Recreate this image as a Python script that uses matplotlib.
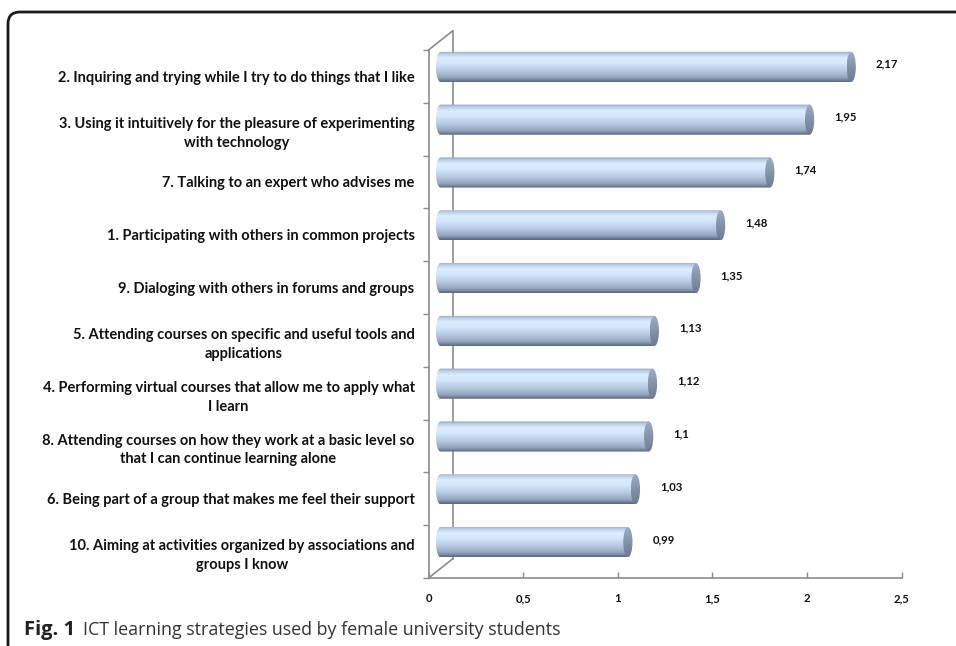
import numpy as np
import matplotlib.pyplot as plt
from matplotlib import transforms
from matplotlib.colors import LinearSegmentedColormap
from matplotlib.patches import Ellipse, FancyBboxPatch, PathPatch
from matplotlib.path import Path

# data, top to bottom as in the chart
labels = [
    '2. Inquiring and trying while I try to do things that I like',
    '3. Using it intuitively for the pleasure of experimenting\nwith technology',
    '7. Talking to an expert who advises me',
    '1. Participating with others in common projects',
    '9. Dialoging with others in forums and groups',
    '5. Attending courses on specific and useful tools and\napplications',
    '4. Performing virtual courses that allow me to apply what\nI learn',
    '8. Attending courses on how they work at a basic level so\nthat I can continue learning alone',
    '6. Being part of a group that makes me feel their support',
    '10. Aiming at activities organized by associations and\ngroups I know',
]
values = [2.17, 1.95, 1.74, 1.48, 1.35, 1.13, 1.12, 1.10, 1.03, 0.99]
value_text = ['2,17', '1,95', '1,74', '1,48', '1,35', '1,13', '1,12', '1,1', '1,03', '0,99']
xticks = [0, 0.5, 1, 1.5, 2, 2.5]
xtick_text = ['0', '0,5', '1', '1,5', '2', '2,5']

W, H, DPI = 956, 646, 100
fig = plt.figure(figsize=(W / DPI, H / DPI), dpi=DPI)
ax = fig.add_axes([428.5 / W, 68 / H, 473.2 / W, 528 / H])

n = len(values)
ypos = np.arange(n)[::-1]
ax.set_xlim(0, 2.5)
ax.set_ylim(-0.5, n - 0.5)

# 3d depth offsets in pixels
dx_wall, dy_wall = 24, 19
off = transforms.offset_copy(ax.transData, fig=fig, x=dx_wall / 2, y=dy_wall / 2, units='dots')
wall = transforms.offset_copy(ax.transData, fig=fig, x=dx_wall, y=dy_wall, units='dots')

grey = '#8c8c8c'
ax.plot([0, 0], [-0.5, n - 0.5], color=grey, lw=1.2, transform=wall, zorder=1, clip_on=False)
ax.set_xlim(0, 2.5)
ax.set_ylim(-0.5, n - 0.5)
for yy in (-0.5, n - 0.5):
    p0 = ax.transData.transform((0, yy))
    ax.plot([p0[0], p0[0] + dx_wall], [p0[1], p0[1] + dy_wall], color=grey, lw=1.2,
            transform=None, zorder=1, clip_on=False)

bar_h = 0.57
rx = 4.6 / (473.2 / 2.5)  # ellipse x radius in data units
cmap = LinearSegmentedColormap.from_list('cyl', [
    (0.00, '#8597b0'), (0.07, '#b4c6de'), (0.22, '#dcedff'), (0.40, '#d4e6fa'),
    (0.65, '#b5c8e0'), (0.86, '#93a5be'), (1.00, '#566479')])
cap_cmap = LinearSegmentedColormap.from_list('cap', ['#9eaec4', '#8393aa', '#6c7a90'])
grad = np.linspace(0, 1, 256).reshape(-1, 1)

bars = ax.barh(ypos, values, height=bar_h, transform=off, color='none', zorder=3)
t = np.linspace(np.pi / 2, 3 * np.pi / 2, 40)
for bar in bars:
    x0, y0 = bar.get_x(), bar.get_y()
    x1, y1 = x0 + bar.get_width(), y0 + bar.get_height()
    yc = (y0 + y1) / 2
    arc = np.column_stack([x0 + rx * np.cos(t), yc + (bar_h / 2) * np.sin(t)])
    verts = np.vstack([[[x1, y1]], arc, [[x1, y0]], [[x1, y1]]])
    body = PathPatch(Path(verts), transform=off, facecolor='none', edgecolor='none')
    ax.add_patch(body)
    img = ax.imshow(grad, extent=[x0 - rx, x1, y0, y1], aspect='auto', cmap=cmap,
                    origin='upper', transform=off, zorder=3, interpolation='bilinear')
    img.set_clip_path(body)
    cap = Ellipse((x1, yc), 2 * rx, bar_h, transform=off, facecolor='none', edgecolor='none')
    ax.add_patch(cap)
    cimg = ax.imshow(grad, extent=[x1 - rx, x1 + rx, y0, y1], aspect='auto', cmap=cap_cmap,
                     origin='upper', transform=off, zorder=4, interpolation='bilinear')
    cimg.set_clip_path(cap)

ax.set_xlim(0, 2.5)
ax.set_ylim(-0.5, n - 0.5)

for y, v, s in zip(ypos, values, value_text):
    ax.text(v + 0.13, y + 0.05, s, transform=off, ha='left', va='center',
            fontsize=8.2, fontweight='bold', family='Lato', color='#111111', zorder=5)

for side in ('top', 'right'):
    ax.spines[side].set_visible(False)
for side in ('left', 'bottom'):
    ax.spines[side].set_color(grey)
    ax.spines[side].set_linewidth(1.2)

ax.set_yticks(ypos)
ax.set_yticklabels(labels, fontsize=10.5, fontweight='bold', family='Lato',
                   linespacing=1.45, color='#111111')
ax.set_yticks(np.arange(-0.5, n, 1), minor=True)
ax.tick_params(axis='y', which='minor', length=4, color=grey, width=1)
for lab in ax.get_yticklabels():
    lab.set_multialignment('center')
    lab.set_horizontalalignment('right')
ax.tick_params(axis='y', which='major', length=0, pad=10)

ax.set_xticks(xticks)
ax.set_xticklabels(xtick_text, fontsize=8.2, fontweight='bold', family='Lato', color='#111111')
ax.tick_params(axis='x', direction='in', length=4, color=grey, width=1, pad=11)

# frame and caption
frame = FancyBboxPatch((8, -40), 1100, 634 + 40, boxstyle='round,pad=0,rounding_size=12',
                       transform=None, facecolor='none', edgecolor='#1a1a1a', lw=2)
fig.patches.append(frame)
fig.text(24 / W, 1 - 630 / H, 'Fig. 1', fontsize=14.5, fontweight='bold', family='Open Sans',
         va='center', ha='left', color='#222222')
fig.text(83 / W, 1 - 630 / H, 'ICT learning strategies used by female university students',
         fontsize=12.9, family='Open Sans', va='center', ha='left', color='#333333')

fig.savefig('out.png', dpi=DPI)
